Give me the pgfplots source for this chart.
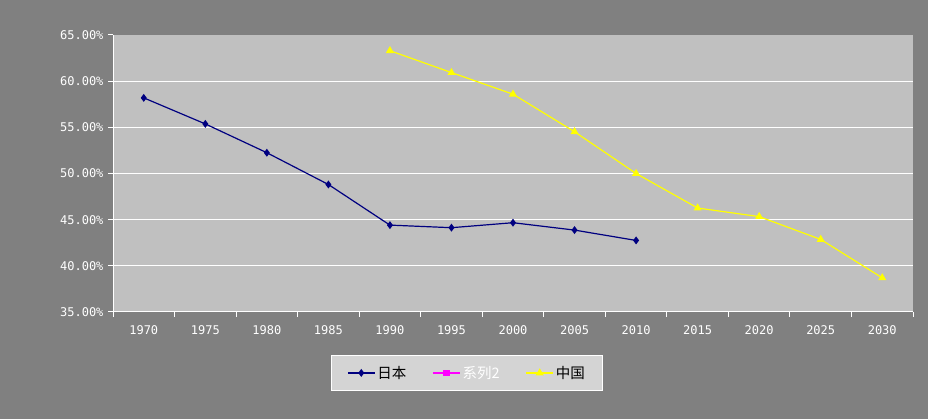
\documentclass[border=0pt]{standalone}
\usepackage{fontspec}
\setmainfont{Noto Sans CJK SC}
\newfontfamily\tickfont{DejaVu Sans Mono}
\usepackage{pgfplots}
\pgfplotsset{compat=1.18}
\definecolor{bgout}{HTML}{808080}
\definecolor{bgplot}{HTML}{C0C0C0}
\definecolor{legbg}{HTML}{D4D4D4}
\definecolor{jpn}{HTML}{000080}
\definecolor{chn}{HTML}{FFFF00}
\definecolor{ser2}{HTML}{FF00FF}
\begin{document}
\begin{tikzpicture}[x=1pt,y=1pt]
\fill[bgout] (0,0) rectangle (928,419);
\begin{axis}[
  at={(113pt,107pt)}, anchor=south west,
  width=800pt, height=277pt, scale only axis,
  xmin=-0.5, xmax=12.5, ymin=35, ymax=65,
  axis background/.style={fill=bgplot},
  axis lines=left,
  axis line style={white, line width=1pt, -},
  tick align=outside,
  tick style={white, line width=1pt},
  major tick length=5pt,
  minor tick length=5pt,
  xtick={0,...,12},
  xticklabels={1970,1975,1980,1985,1990,1995,2000,2005,2010,2015,2020,2025,2030},
  major x tick style={draw=none},
  minor xtick={-0.5,0.5,...,12.5},
  ytick={35,40,...,65},
  yticklabels={35.00\%,40.00\%,45.00\%,50.00\%,55.00\%,60.00\%,65.00\%},
  extra y ticks={40,45,50,55,60},
  extra y tick labels={},
  extra y tick style={grid=major, tick style={draw=none}},
  major grid style={white, line width=1pt},
  ticklabel style={font=\tickfont\fontsize{12}{14}\selectfont, text=white},
  yticklabel style={xshift=-1pt},
  xticklabel style={yshift=-5pt},
  legend columns=3,
  legend style={at={(0.4425,-0.220)}, anchor=center, fill=legbg, draw=white, line width=0.8pt,
    font=\fontsize{14.5}{16}\selectfont, inner xsep=16pt, inner ysep=9pt,
    /tikz/every even column/.append style={column sep=24pt}},
  legend image code/.code={\draw[mark repeat=2,mark phase=2,#1] plot coordinates {(0pt,0pt)(13.5pt,0pt)(27pt,0pt)};},
]
\addplot[jpn, line width=1.2pt, mark=diamond*, mark size=3pt, mark options={fill=jpn}]
  coordinates {(0,58.19)(1,55.37)(2,52.25)(3,48.81)(4,44.41)(5,44.13)(6,44.67)(7,43.87)(8,42.75)};
\addlegendentry{日本}
\addlegendimage{ser2, line width=1.2pt, mark=square*, mark size=2.5pt, mark options={fill=ser2}}
\addlegendentry{\textcolor{white}{系列2}}
\addplot[chn, line width=1.2pt, mark=triangle*, mark size=3.5pt, mark options={fill=chn}]
  coordinates {(4,63.3)(5,60.93)(6,58.59)(7,54.52)(8,50.0)(9,46.26)(10,45.33)(11,42.86)(12,38.70)};
\addlegendentry{中国}
\end{axis}
\end{tikzpicture}
\end{document}
